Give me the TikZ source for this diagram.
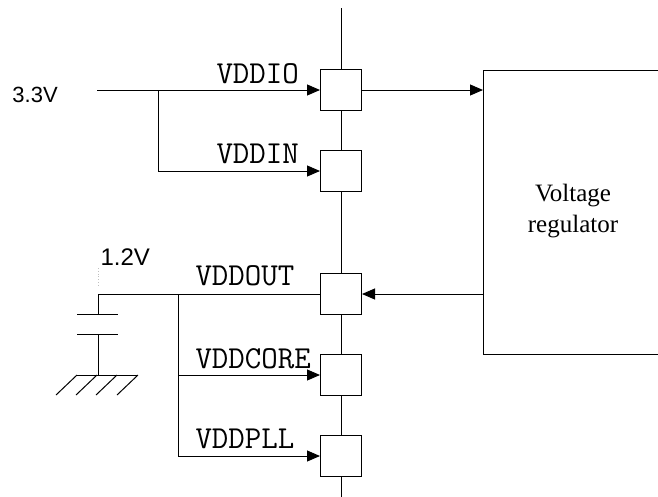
\documentclass[tikz,border=0pt]{standalone}
\usepackage{fontspec}
\setmainfont{Liberation Serif}
\newfontfamily\arialfont{Liberation Sans}
\usetikzlibrary{arrows.meta}
\begin{document}
\begin{tikzpicture}[x=1pt,y=-1pt,line width=1pt,
  pin/.style={draw,fill=white,minimum size=41pt,inner sep=0pt,line width=1pt},
  lbl/.style={font=\ttfamily\fontsize{32}{32}\selectfont,inner sep=0pt,anchor=base west},
  vlbl/.style={font=\arialfont\fontsize{22}{22}\selectfont,inner sep=0pt,anchor=base west},
  arr/.style={-{Triangle[length=13pt,width=11pt]}}]
\useasboundingbox (0,0) rectangle (658,496);
\clip (0,0) rectangle (658,496);
\coordinate (top) at (341,8);
\coordinate (bot) at (341,500);
\draw (top) -- (bot);
\node[pin] (b1) at (341,90) {};
\node[pin] (b2) at (341,171) {};
\node[pin] (b3) at (341,294) {};
\node[pin] (b4) at (341,375) {};
\node[pin] (b5) at (341,456) {};
\node[draw,minimum width=230pt,minimum height=284pt,anchor=north west,inner sep=0pt] (reg) at (483,70) {};
\node[font=\fontsize{25}{31}\selectfont,align=center,inner sep=0pt] (regtext) at (573,211) {Voltage\\regulator};
% 3.3V
\node[vlbl] (v33) at (12,102) {3.3V};
\coordinate (in33) at (97,90);
\coordinate (br1) at (158,90);
\draw[arr] (in33) -- (b1.west);
\draw[arr] (br1) |- (b2.west);
\draw[arr] (b1.east) -- (b1.east -| reg.west);
\draw[arr] (b3.east -| reg.west) -- (b3.east);
\node[lbl] (l1) at (216,83) {VDDIO};
\node[lbl] (l2) at (216,163) {VDDIN};
\node[lbl] (l3) at (195,285) {VDDOUT};
\node[lbl] (l4) at (195,368) {VDDCORE};
\node[lbl] (l5) at (195,448) {VDDPLL};
% 1.2V and capacitor
\node[vlbl,font=\arialfont\fontsize{24}{24}\selectfont] (v12) at (100,265) {1.2V};
\draw[gray!50,line width=0.8pt,dotted] (98,268) -- (98,285);
\coordinate (cn) at (98,294);
\coordinate (cp1) at (98,314);
\coordinate (cp2) at (98,334);
\coordinate (gnd) at (98,375);
\draw (b3.west) -- (cn) -- (cp1);
\draw (77,314) -- (118,314);
\draw (77,334) -- (118,334);
\draw (cp2) -- (gnd);
\draw (77,375) -- (138,375);
\foreach \x in {77,97,117,138} \draw (\x,375) -- ++(-21,20);
\coordinate (br2) at (178,294);
\draw[arr] (br2) |- (b4.west);
\draw[arr] (br2) |- (b5.west);
\end{tikzpicture}
\end{document}
